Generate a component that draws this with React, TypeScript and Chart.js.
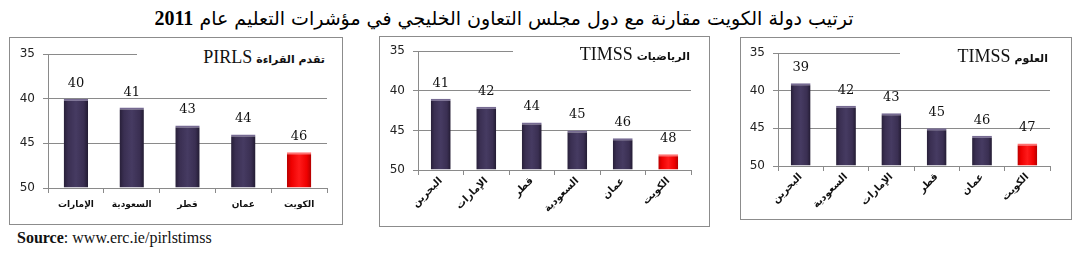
import React, { useEffect, useRef } from "react";
import { Chart, registerables } from "chart.js";

Chart.register(...registerables);

// ---------- data ----------
const readingCategories = ["الإمارات", "السعودية", "قطر", "عمان", "الكويت"];
const readingRanks = [40, 41, 43, 44, 46];

const mathCategories = ["البحرين", "الإمارات", "قطر", "السعودية", "عمان", "الكويت"];
const mathRanks = [41, 42, 44, 45, 46, 48];

const scienceCategories = ["البحرين", "السعودية", "الإمارات", "قطر", "عمان", "الكويت"];
const scienceRanks = [39, 42, 43, 45, 46, 47];

const rankTicks = [35, 40, 45, 50];
const highlightCategory = "الكويت";

const mainTitle = "ترتيب دولة الكويت مقارنة مع دول مجلس التعاون الخليجي في مؤشرات التعليم عام";
const mainTitleYear = "2011";
const sourceLabel = "Source";
const sourceUrl = "www.erc.ie/pirlstimss";

// ---------- layout ----------
type Panel = {
  key: string;
  arabic: string;
  latin: string;
  categories: string[];
  values: number[];
  box: { left: number; top: number; width: number; height: number };
  area: { left: number; right: number; top: number; bottom: number };
  titleBox: { left: number; top: number; width: number; height: number; padRight: number };
  rotate: boolean;
};

const panels: Panel[] = [
  {
    key: "pirls",
    arabic: "تقدم القراءة",
    latin: "PIRLS",
    categories: readingCategories,
    values: readingRanks,
    box: { left: 9, top: 37, width: 334, height: 188 },
    area: { left: 39, right: 318, top: 17, bottom: 151 },
    titleBox: { left: 137, top: 44, width: 193, height: 26, padRight: 5 },
    rotate: false,
  },
  {
    key: "math",
    arabic: "الرياضيات",
    latin: "TIMSS",
    categories: mathCategories,
    values: mathRanks,
    box: { left: 379, top: 36, width: 331, height: 191 },
    area: { left: 39, right: 312, top: 15, bottom: 134 },
    titleBox: { left: 513, top: 42, width: 182, height: 24, padRight: 5 },
    rotate: true,
  },
  {
    key: "science",
    arabic: "العلوم",
    latin: "TIMSS",
    categories: scienceCategories,
    values: scienceRanks,
    box: { left: 740, top: 37, width: 332, height: 183 },
    area: { left: 38, right: 310, top: 16, bottom: 129 },
    titleBox: { left: 900, top: 44, width: 152, height: 24, padRight: 4 },
    rotate: true,
  },
];

const GRID = "#8a8a8a";
const BAR_PCT = 0.46;
const CAT_PCT = 0.95;

function barFill(ctx: any, highlight: boolean) {
  const chart = ctx.chart;
  const xs = chart.scales && chart.scales.x;
  const base = highlight ? "#f20000" : "#3d3256";
  if (!xs || !chart.chartArea) return base;
  const n = chart.data.labels.length;
  const x = xs.getPixelForValue(ctx.dataIndex);
  const w = (xs.width / n) * BAR_PCT * CAT_PCT;
  const g = chart.ctx.createLinearGradient(x - w / 2, 0, x + w / 2, 0);
  if (highlight) {
    g.addColorStop(0, "#b80000");
    g.addColorStop(0.18, "#ee0000");
    g.addColorStop(0.5, "#ff1a1a");
    g.addColorStop(0.82, "#ee0000");
    g.addColorStop(1, "#b00000");
  } else {
    g.addColorStop(0, "#271f38");
    g.addColorStop(0.18, "#3a2f52");
    g.addColorStop(0.5, "#463b62");
    g.addColorStop(0.82, "#3a2f52");
    g.addColorStop(1, "#221b32");
  }
  return g;
}

const valueLabels = {
  id: "valueLabels",
  afterDatasetsDraw(chart: any) {
    const { ctx } = chart;
    const meta = chart.getDatasetMeta(0);
    const data = chart.data.datasets[0].data;
    ctx.save();
    ctx.font = "13px 'DejaVu Serif'";
    ctx.fillStyle = "#111111";
    ctx.textAlign = "center";
    ctx.textBaseline = "alphabetic";
    meta.data.forEach((el: any, i: number) => {
      ctx.fillText(String(data[i]), el.x, el.y - 12);
    });
    ctx.restore();
  },
};

function PanelChart({ p }: { p: Panel }) {
  const ref = useRef<HTMLCanvasElement | null>(null);
  useEffect(() => {
    if (!ref.current) return;
    const W = p.box.width;
    const H = p.box.height;
    const chart = new Chart(ref.current, {
      type: "bar",
      data: {
        labels: p.categories,
        datasets: [
          {
            data: p.values,
            base: 50,
            backgroundColor: (c: any) => barFill(c, p.categories[c.dataIndex] === highlightCategory),
            borderColor: p.categories.map((c) => (c === highlightCategory ? "#ff7070" : "#766a92")),
            borderWidth: { top: 2, left: 0, right: 0, bottom: 0 },
            borderSkipped: "bottom",
            barPercentage: BAR_PCT,
            categoryPercentage: CAT_PCT,
          } as any,
        ],
      },
      options: {
        animation: false,
        responsive: false,
        devicePixelRatio: 1,
        layout: {
          padding: { left: 0, top: p.area.top, right: W - p.area.right, bottom: 0 },
        },
        plugins: {
          legend: { display: false },
          title: { display: false },
          tooltip: { enabled: false },
        },
        scales: {
          x: {
            grid: {
              drawOnChartArea: false,
              drawTicks: true,
              tickLength: 5,
              color: GRID,
              offset: true,
            },
            border: { display: true, color: GRID },
            ticks: {
              autoSkip: false,
              minRotation: p.rotate ? 45 : 0,
              maxRotation: p.rotate ? 45 : 0,
              padding: p.rotate ? 0 : 6,
              color: "#111111",
              font: { family: "'DejaVu Sans'", size: p.rotate ? 10 : 9, weight: "bold" },
            },
            afterFit: (s: any) => {
              s.height = H - p.area.bottom;
            },
          },
          y: {
            reverse: true,
            min: 35,
            max: 50,
            afterBuildTicks: (s: any) => {
              s.ticks = rankTicks.map((v) => ({ value: v }));
            },
            grid: { color: GRID, tickLength: 5, drawTicks: true },
            border: { display: true, color: GRID },
            ticks: {
              padding: 8,
              color: "#222222",
              font: { family: "'DejaVu Sans'", size: 12 },
            },
            afterFit: (s: any) => {
              s.width = p.area.left;
            },
          },
        },
      },
      plugins: [valueLabels],
    });
    return () => chart.destroy();
  }, [p]);
  return (
    <canvas
      ref={ref}
      width={p.box.width}
      height={p.box.height}
      style={{
        position: "absolute",
        left: p.box.left,
        top: p.box.top,
        width: p.box.width,
        height: p.box.height,
      }}
    />
  );
}

export default function App() {
  useEffect(() => {
    document.body.style.margin = "0";
    document.body.style.background = "#ffffff";
  }, []);
  return (
    <div style={{ position: "relative", width: 1078, height: 254, background: "#fff", overflow: "hidden" }}>
      <div
        dir="rtl"
        style={{
          position: "absolute",
          left: 0,
          top: 6,
          width: 1008,
          textAlign: "center",
          whiteSpace: "nowrap",
          fontFamily: "'DejaVu Sans', sans-serif",
          fontSize: 19,
          color: "#000",
          lineHeight: "24px",
        }}
      >
        {mainTitle}{" "}
        <span style={{ fontFamily: "'Liberation Serif', serif", fontWeight: "bold", fontSize: 20 }}>
          {mainTitleYear}
        </span>
      </div>

      {panels.map((p) => (
        <div
          key={p.key + "-box"}
          style={{
            position: "absolute",
            left: p.box.left,
            top: p.box.top,
            width: p.box.width - 2,
            height: p.box.height - 2,
            border: "1px solid #8c8c8c",
          }}
        />
      ))}

      {panels.map((p) => (
        <PanelChart key={p.key} p={p} />
      ))}

      {panels.map((p) => (
        <div
          key={p.key + "-title"}
          dir="rtl"
          style={{
            position: "absolute",
            left: p.titleBox.left,
            top: p.titleBox.top,
            width: p.titleBox.width - p.titleBox.padRight,
            height: p.titleBox.height,
            paddingRight: p.titleBox.padRight,
            background: "#fff",
            textAlign: "right",
            whiteSpace: "nowrap",
            lineHeight: p.titleBox.height + "px",
            color: "#111",
          }}
        >
          <span style={{ fontFamily: "'DejaVu Sans', sans-serif", fontWeight: "bold", fontSize: 11 }}>
            {p.arabic}
          </span>{" "}
          <span style={{ fontFamily: "'Liberation Serif', serif", fontSize: 18 }}>{p.latin}</span>
        </div>
      ))}

      <div
        style={{
          position: "absolute",
          left: 17,
          top: 229,
          fontFamily: "'Liberation Serif', serif",
          fontSize: 16,
          color: "#111",
          whiteSpace: "nowrap",
        }}
      >
        <b>{sourceLabel}</b>: {sourceUrl}
      </div>
    </div>
  );
}
